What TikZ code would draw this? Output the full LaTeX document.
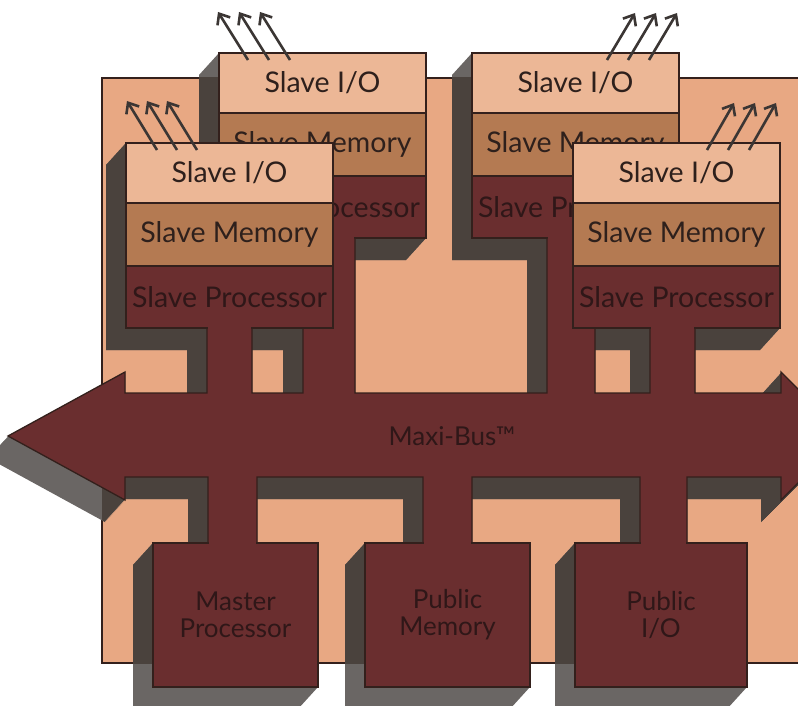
\documentclass[tikz,border=0pt]{standalone}
\usepackage{fontspec}
\setmainfont{Lato}
\usetikzlibrary{positioning,arrows.meta}

\definecolor{panelfill}{HTML}{E8A883}
\definecolor{iofill}{HTML}{ECB796}
\definecolor{memfill}{HTML}{B47A52}
\definecolor{busfill}{HTML}{6A2E2F}
\definecolor{edge}{HTML}{33201C}
\definecolor{ink}{HTML}{2E201C}
\definecolor{inkdark}{HTML}{2F1718}
\definecolor{shadedark}{HTML}{4A423D}
\definecolor{shadelight}{HTML}{6A6664}
\definecolor{arrowcol}{HTML}{3B3634}

\pgfdeclarelayer{panel}
\pgfdeclarelayer{shade}
\pgfsetlayers{panel,shade,main}

% outline of the Maxi-Bus with its stubs (picture coordinates, y down)
\newcommand\buspath{(8,436) -- (125,372) -- (125,393) -- (207,393) -- (207,328) -- (252,328)
  -- (252,393) -- (303,393) -- (303,238) -- (355,238) -- (355,393) -- (547,393) -- (547,238)
  -- (595,238) -- (595,393) -- (650,393) -- (650,328) -- (695,328) -- (695,393) -- (781,393)
  -- (781,372) -- (845,436) -- (781,500) -- (781,477) -- (687,477) -- (687,543) -- (640,543)
  -- (640,477) -- (472,477) -- (472,543) -- (423,543) -- (423,477) -- (257,477) -- (257,543)
  -- (208,543) -- (208,477) -- (125,477) -- (125,500) -- cycle}
% extruded shadow of a stack of boxes, #1 top node, #2 bottom node
\newcommand\castshadow[2]{\fill[shadecol] (#1.north west) -- ([shift={(-20,22)}]#1.north west)
  -- ([shift={(-20,22)}]#2.south west) -- ([shift={(-20,22)}]#2.south east)
  -- (#2.south east) -- (#1.north east) -- cycle;}
\newcommand\allshadows{%
  \foreach \t in {0,1,...,20}{\fill[shadecol, shift={(-\t,1.1*\t)}] \buspath;}
  \castshadow{bl-io}{bl-proc}
  \castshadow{br-io}{br-proc}
  \castshadow{fl-io}{fl-proc}
  \castshadow{fr-io}{fr-proc}
  \castshadow{master}{master}
  \castshadow{pubmem}{pubmem}
  \castshadow{pubio}{pubio}}
% hide the box edge where a stub joins it
\newcommand\seam[3]{\fill[busfill] (#1+0.8,#3-1.7) rectangle (#2-0.8,#3+1.7);}

\begin{document}
\begin{tikzpicture}[x=1pt, y=-1pt,
    >={Straight Barb[length=9pt,width=15pt]},
    unit/.style={rectangle, draw=edge, line width=1.3pt, inner sep=0pt, outer sep=0pt,
        minimum width=207pt, font=\fontsize{28.5}{30}\selectfont, text=ink},
    iobox/.style={unit, fill=iofill, minimum height=60pt},
    membox/.style={unit, fill=memfill, minimum height=63pt},
    procbox/.style={unit, fill=busfill, minimum height=62pt, text=inkdark},
    pubbox/.style={rectangle, draw=edge, line width=1.3pt, fill=busfill, inner sep=0pt,
        outer sep=0pt, minimum height=144pt, anchor=north west, align=center,
        font=\fontsize{26}{27}\selectfont, text=inkdark},
    buslabel/.style={font=\fontsize{26}{28}\selectfont, text=inkdark},
    ioarrow/.style={->, line width=2.6pt, draw=arrowcol}
]
    \useasboundingbox (0,0) rectangle (798,706);

    % back slave boards
    \node[iobox, anchor=north west] (bl-io) at (219,53) {Slave I/O};
    \node[membox, below=0pt of bl-io] (bl-mem) {Slave Memory};
    \node[procbox, below=0pt of bl-mem] (bl-proc) {Slave Processor};
    \node[iobox, anchor=north west] (br-io) at (472,53) {Slave I/O};
    \node[membox, below=0pt of br-io] (br-mem) {Slave Memory};
    \node[procbox, below=0pt of br-mem] (br-proc) {Slave Processor};

    % the bus
    \filldraw[fill=busfill, draw=edge, line width=1.3pt] \buspath;
    \node[buslabel] (bus) at (452,436) {Maxi-Bus™};
    \seam{303}{355}{238}
    \seam{547}{595}{238}

    % front slave boards
    \node[iobox, anchor=north west] (fl-io) at (126,143) {Slave I/O};
    \node[membox, below=0pt of fl-io] (fl-mem) {Slave Memory};
    \node[procbox, below=0pt of fl-mem] (fl-proc) {Slave Processor};
    \node[iobox, anchor=north west] (fr-io) at (573,143) {Slave I/O};
    \node[membox, below=0pt of fr-io] (fr-mem) {Slave Memory};
    \node[procbox, below=0pt of fr-mem] (fr-proc) {Slave Processor};
    \seam{207}{252}{328}
    \seam{650}{695}{328}

    % public boards
    \node[pubbox, minimum width=165pt] (master) at (153,543) {Master\\Processor};
    \node[pubbox, minimum width=165pt] (pubmem) at (365,543) {Public\\Memory};
    \node[pubbox, minimum width=172pt] (pubio) at (575,543) {Public\\I/O};
    \seam{208}{257}{543}
    \seam{423}{472}{543}
    \seam{640}{687}{543}

    % I/O lines
    \foreach \a in {29,50,71} \draw[ioarrow] ([shift={(\a,7)}]bl-io.north west) -- ++(-30,-48);
    \foreach \a in {31,51,71} \draw[ioarrow] ([shift={(\a,7)}]fl-io.north west) -- ++(-30,-49);
    \foreach \a in {135,156,177} \draw[ioarrow] ([shift={(\a,7)}]br-io.north west) -- ++(28,-47);
    \foreach \a in {134,155,176} \draw[ioarrow] ([shift={(\a,7)}]fr-io.north west) -- ++(27,-47);

    \begin{pgfonlayer}{panel}
        \filldraw[fill=panelfill, draw=edge, line width=1.3pt] (102,78) rectangle (840,663);
    \end{pgfonlayer}
    \begin{pgfonlayer}{shade}
        \colorlet{shadecol}{shadelight}
        \allshadows
        \begin{scope}
            \clip (102,78) rectangle (840,663);
            \colorlet{shadecol}{shadedark}
            \allshadows
        \end{scope}
    \end{pgfonlayer}
\end{tikzpicture}
\end{document}
